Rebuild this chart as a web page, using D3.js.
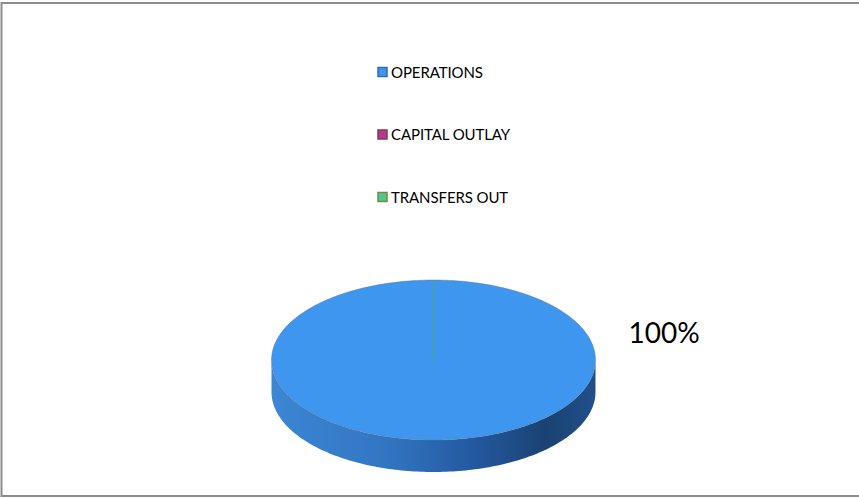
<!DOCTYPE html>
<html>
<head>
<meta charset="utf-8">
<script src="https://cdn.jsdelivr.net/npm/d3@7"></script>
<style>
  html, body { margin: 0; padding: 0; background: #fff; }
  svg { display: block; }
</style>
</head>
<body>
<svg id="chart" width="859" height="498"></svg>
<script>
// Expenditure categories and their shares of the total
const categories = ["OPERATIONS", "CAPITAL OUTLAY", "TRANSFERS OUT"];
const values = [100, 0, 0];
const fills = ["#3f96ef", "#b5399c", "#4cc88e"];
const legendBorders = ["#2f6db5", "#8c3a3a", "#788c3b"];

const W = 859, H = 498;
const svg = d3.select("#chart");

// Chart frame
svg.append("rect")
  .attr("x", 1.5).attr("y", 3).attr("width", W + 4).attr("height", 493)
  .attr("fill", "none").attr("stroke", "#8c8c8c").attr("stroke-width", 2);

// Tilted pie geometry
const cx = 433.5, cy = 360, rx = 162, ry = 80, depth = 32;
const px = a => cx + rx * Math.sin(a);
const py = a => cy - ry * Math.cos(a);

const pie = d3.pie().sort(null).value(d => d.value);
const arcs = pie(categories.map((c, i) => ({ name: c, value: values[i], i })));

const defs = svg.append("defs");
const grad = defs.append("linearGradient")
  .attr("id", "side0").attr("gradientUnits", "userSpaceOnUse")
  .attr("x1", cx - rx).attr("x2", cx + rx).attr("y1", 0).attr("y2", 0);
[[0, "#3c86d4"], [0.35, "#3276c2"], [0.62, "#2459a0"], [0.85, "#1a4272"], [1, "#21508a"]]
  .forEach(([o, c]) => grad.append("stop").attr("offset", o).attr("stop-color", c));

function topPath(a0, a1) {
  const n = Math.max(2, Math.ceil((a1 - a0) / 0.02));
  const pts = d3.range(n + 1).map(k => a0 + (a1 - a0) * k / n);
  let d = `M${cx},${cy}`;
  pts.forEach(a => { d += `L${px(a)},${py(a)}`; });
  return d + "Z";
}

function sidePath(a0, a1) {
  // visible outer wall lies between angles PI/2 and 3PI/2
  const s = Math.max(a0, Math.PI / 2), e = Math.min(a1, 3 * Math.PI / 2);
  if (e <= s) return null;
  const n = Math.ceil((e - s) / 0.02);
  const pts = d3.range(n + 1).map(k => s + (e - s) * k / n);
  let d = "";
  pts.forEach((a, k) => { d += (k ? "L" : "M") + `${px(a)},${py(a)}`; });
  pts.slice().reverse().forEach(a => { d += `L${px(a)},${py(a) + depth}`; });
  return d + "Z";
}

const g = svg.append("g");
arcs.forEach(a => {
  const sp = sidePath(a.startAngle, a.endAngle);
  if (sp) g.append("path").attr("d", sp)
    .attr("fill", a.index === 0 ? "url(#side0)" : fills[a.index]);
});
arcs.forEach(a => {
  if (a.endAngle - a.startAngle <= 0) return;
  g.append("path").attr("d", topPath(a.startAngle, a.endAngle))
    .attr("fill", fills[a.index]);
});
// outline of top face
g.append("ellipse").attr("cx", cx).attr("cy", cy).attr("rx", rx).attr("ry", ry)
  .attr("fill", "none").attr("stroke", "#5a7fa8").attr("stroke-width", 0.7).attr("opacity", 0.7);

// boundary of the zero-size slices
arcs.filter(a => a.value === 0).slice(0, 1).forEach(a => {
  g.append("line")
    .attr("x1", cx).attr("y1", cy)
    .attr("x2", px(a.startAngle)).attr("y2", py(a.startAngle))
    .attr("stroke", "#4aa88a").attr("stroke-width", 1.3).attr("opacity", 0.9);
});

// Data label
const total = d3.sum(values);
arcs.filter(a => a.value > 0).forEach(a => {
  svg.append("text")
    .attr("x", cx + rx + 33).attr("y", 343)
    .attr("font-family", "Lato, 'Open Sans', sans-serif")
    .attr("font-size", 28).attr("fill", "#000")
    .text(d3.format(".0%")(a.value / total));
});

// Legend
const ly = d3.scalePoint().domain(categories).range([72, 197]);
const leg = svg.append("g");
categories.forEach((c, i) => {
  leg.append("rect")
    .attr("x", 378).attr("y", ly(c) - 4.5).attr("width", 9).attr("height", 9)
    .attr("fill", fills[i]).attr("stroke", legendBorders[i]).attr("stroke-width", 1.5);
  leg.append("text")
    .attr("x", 391).attr("y", ly(c) + 5.5)
    .attr("font-family", "Lato, 'Open Sans', sans-serif")
    .attr("font-size", 15).attr("fill", "#000")
    .attr("letter-spacing", -0.1)
    .text(c);
});
</script>
</body>
</html>
